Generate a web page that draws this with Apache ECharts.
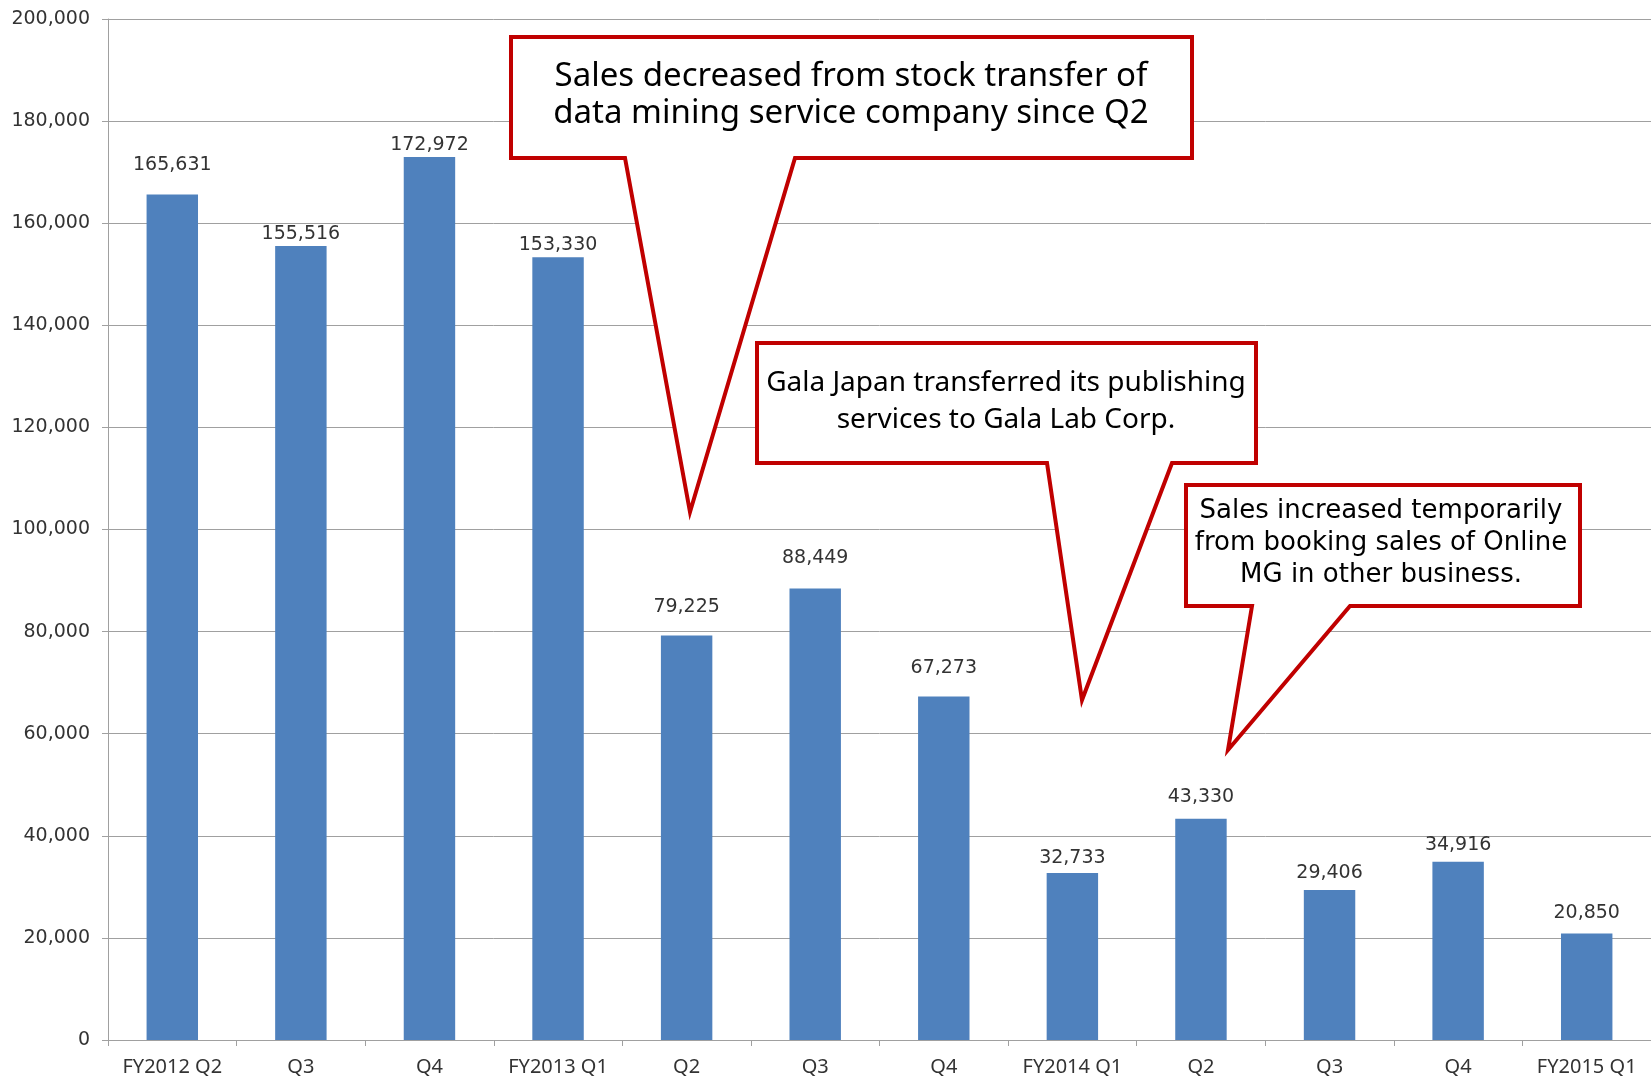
<!DOCTYPE html>
<html>
<head>
<meta charset="utf-8">
<script src="https://cdn.jsdelivr.net/npm/echarts@6/dist/echarts.min.js"></script>
<style>
  html, body { margin: 0; padding: 0; background: #fff; }
  #main { width: 1651px; height: 1078px; }
</style>
</head>
<body>
<div id="main"></div>
<script>
// quarters and net sales
const quarters = ['FY2012 Q2', 'Q3', 'Q4', 'FY2013 Q1', 'Q2', 'Q3', 'Q4', 'FY2014 Q1', 'Q2', 'Q3', 'Q4', 'FY2015 Q1'];
const sales = [165631, 155516, 172972, 153330, 79225, 88449, 67273, 32733, 43330, 29406, 34916, 20850];
const notes = [
  ['Sales decreased from stock transfer of', 'data mining service company since Q2'],
  ['Gala Japan transferred its publishing', 'services to Gala Lab Corp.'],
  ['Sales increased temporarily', 'from booking sales of Online', 'MG in other business.']
];

// label gap above each bar, as placed in the original
const labelGap = [20, 3, 2, 3, 19, 21, 19, 5, 12, 7, 7, 11];

const red = '#C00000';
const fmt = v => v.toLocaleString('en-US');

function callout(points, z) {
  return {
    type: 'polygon',
    z: z,
    shape: { points: points },
    style: { fill: '#fff', stroke: red, lineWidth: 4, lineJoin: 'miter' }
  };
}
function lines(texts, cx, y0, step, font, z) {
  return texts.map((t, i) => ({
    type: 'text',
    z: z + 1,
    style: {
      text: t, x: cx, y: y0 + i * step,
      textAlign: 'center', textVerticalAlign: 'middle',
      font: font, fill: '#000'
    }
  }));
}

let myChart = echarts.init(document.getElementById('main'));
myChart.setOption({
  animation: false,
  grid: { left: 108, right: 0, top: 19, bottom: 38, containLabel: false },
  xAxis: {
    type: 'category',
    data: quarters,
    axisLine: { lineStyle: { color: '#a0a0a0', width: 1 } },
    axisTick: { show: true, length: 6, alignWithLabel: false, lineStyle: { color: '#a0a0a0' } },
    axisLabel: { color: '#333', fontFamily: 'Noto Sans', fontSize: 20, margin: 17, interval: 0 }
  },
  yAxis: {
    type: 'value',
    min: 0, max: 200000, interval: 20000,
    axisLine: { show: true, lineStyle: { color: '#a0a0a0', width: 1 } },
    axisTick: { show: true, length: 6, lineStyle: { color: '#a0a0a0' } },
    splitLine: { lineStyle: { color: '#a0a0a0', width: 1 } },
    axisLabel: { color: '#333', fontFamily: 'DejaVu Sans', fontSize: 19, margin: 18, formatter: fmt }
  },
  series: [{
    type: 'bar',
    barWidth: '40%',
    itemStyle: { color: '#4F81BD' },
    data: sales.map((v, i) => ({
      value: v,
      label: { distance: labelGap[i] }
    })),
    label: {
      show: true, position: 'top',
      color: '#333', fontFamily: 'DejaVu Sans', fontSize: 19,
      formatter: p => fmt(p.value)
    }
  }],
  graphic: [].concat(
    [callout([[511, 37], [1192, 37], [1192, 158], [795, 158], [690, 512], [625, 158], [511, 158]], 100)],
    lines(notes[0], 851, 77, 37, '33px "Noto Sans"', 100),
    [callout([[757, 343], [1256, 343], [1256, 463], [1172, 463], [1082, 700], [1047, 463], [757, 463]], 110)],
    lines(notes[1], 1006, 383, 37, '28px "Noto Sans"', 110),
    [callout([[1186, 485], [1580, 485], [1580, 606], [1350, 606], [1228, 750], [1252, 606], [1186, 606]], 120)],
    lines(notes[2], 1381, 511, 32, '26px "DejaVu Sans"', 120)
  )
});
</script>
</body>
</html>
